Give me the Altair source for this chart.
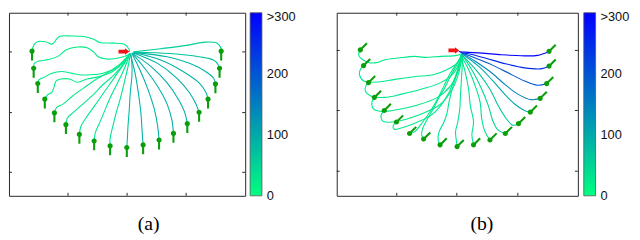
import altair as alt
import pandas as pd

# ---------------- panel (a) ----------------
a_paths_x = [
    [26, 28.3, 32.3, 40, 47.3, 51.7, 55, 66.7, 80, 90, 96.7, 110, 121.7, 126.7, 127.7],
    [27.7, 28.3, 33.3, 43.3, 53.3, 61.7, 73.3, 83.3, 90, 95, 103.3, 113.3, 123.3, 127.7],
    [32, 33.3, 38.3, 46.7, 56.7, 66.7, 75, 86.7, 100, 113.3, 123.3, 127.7],
    [39.3, 41.7, 46.7, 49.3, 50.7, 56, 65, 73.3, 83.3, 96.7, 110, 121.7, 127.7],
    [49.3, 51.7, 58.3, 68.3, 80, 93.3, 106.7, 118.3, 127.7],
    [61.3, 62.7, 70, 80, 90, 100, 111.7, 121.7, 127.7],
    [75.3, 76.7, 82.7, 90, 98.3, 106.7, 115, 123.3, 127.7],
    [90.7, 91.7, 96.7, 101.7, 106.7, 113.3, 120, 125, 128],
    [107.3, 107.3, 110, 113.3, 117.3, 120.7, 124, 126.7, 128.3],
    [124.7, 125.3, 126, 127.3, 128.3, 130, 130, 128.7],
    [141.7, 140.7, 139.3, 136.7, 133.3, 128.3],
    [158.3, 156.7, 153.3, 146.7, 138.3, 130],
    [173.3, 171.7, 166.7, 156.7, 143.3, 130],
    [187.7, 185, 178.3, 166.7, 150, 130],
    [200, 196.7, 190, 176.7, 156.7, 131.7],
    [209.3, 207.3, 200, 183.3, 160, 131.7],
    [217, 215, 206.7, 190, 166.7, 131.7],
    [221.3, 220, 215, 200, 170, 131.7],
    [223, 222.3, 218.3, 206.7, 186.7, 160, 131.7],
]
a_paths_y = [
    [44.3, 37.3, 34.3, 34.7, 37, 31.7, 29, 28.7, 29.3, 32, 35.3, 36, 37, 41.7, 45],
    [61.7, 56.7, 54.3, 52.7, 49.3, 42.7, 40, 40.7, 45, 50, 52.3, 51.7, 49.3, 46.7],
    [77.3, 73.3, 71, 66.7, 65, 66.7, 68.3, 68.3, 66.7, 61.7, 53.3, 46.7],
    [93.3, 89.3, 86, 80, 75, 72.7, 72.7, 76, 72.7, 70, 65, 55, 46.7],
    [107.3, 101.7, 98.3, 90, 81.7, 72.7, 65, 56.7, 46.7],
    [119.3, 112.7, 106, 97.3, 88.3, 78.3, 68.3, 56.7, 46.7],
    [129.3, 121.7, 111.7, 101.7, 90, 78.3, 66.7, 55, 46.7],
    [136, 128.3, 116.7, 105, 93.3, 80, 66.7, 55, 46.7],
    [141, 133.3, 121.7, 108.3, 95, 81.7, 68.3, 56.7, 46.7],
    [142.7, 133.3, 120, 103.3, 86.7, 70, 56.7, 46.7],
    [140, 126.7, 106.7, 86.7, 66.7, 46.7],
    [135, 120, 103.3, 83.3, 63.3, 46.7],
    [128.3, 115, 98.3, 80, 61.7, 46],
    [118.3, 106.7, 93.3, 76.7, 60, 46],
    [106.7, 98.3, 86.7, 71.7, 56.7, 46],
    [93.3, 86.7, 76.7, 65, 53.3, 45.7],
    [77.7, 71.7, 65, 56.7, 50, 45.7],
    [61.7, 58.3, 53.3, 50, 46.7, 45.3],
    [44.3, 40, 36, 35, 38.3, 41.7, 45],
]
a_vals = [22, 22, 22, 22, 24, 25, 28, 30, 35, 80, 90, 92, 92, 92, 92, 90, 85, 70, 55]
a_start = [121.7, 44.7]
a_xdom = [2, 248]
a_ydom = [5, 192]
a_xticks = [63.5, 125, 186.5]
a_yticks = [45, 107, 168]

# ---------------- panel (b) ----------------
b_paths_x = [
    [365, 363.3, 368.3, 375, 383.3, 390, 403.3, 420, 430, 446.7, 463.3, 468.3],
    [368.3, 365, 364, 368.3, 383.3, 400, 420, 440, 453.3, 463.3, 468.3],
    [373.3, 370.7, 370, 376.7, 390, 406.7, 426.7, 446.7, 460, 466.7],
    [379.3, 376.7, 378.3, 386.7, 403.3, 423.3, 443.3, 456.7, 465, 468.3],
    [389.3, 386, 388.3, 398.3, 413.3, 430, 446.7, 458.3, 465, 468.3],
    [401.7, 398.3, 399.3, 410, 423.3, 436.7, 446.7, 455, 461.7, 467.7],
    [415, 420, 428.3, 436.7, 443.3, 450, 456.7, 463.3, 468.3],
    [429.3, 427.3, 428.3, 433.3, 440, 445, 450, 456.7, 463.3, 468.3],
    [446, 444, 445, 450, 453.3, 455, 458.3, 463.3, 468.3],
    [463.3, 462.7, 461.7, 464, 466, 466.7, 467.7, 468.7, 469],
    [480, 478.3, 480, 476.7, 475, 471.7, 466.7],
    [496.7, 491.7, 488.3, 486.7, 481.7, 475, 466.7],
    [512.3, 505, 500, 495, 488.3, 480, 468.3],
    [525.7, 520, 513.3, 505, 496.7, 485, 468.3],
    [537.7, 531.7, 521.7, 510, 498.3, 485, 468.3],
    [547.7, 538.3, 525, 511.7, 498.3, 481.7, 468.3],
    [554.3, 545, 531.7, 515, 498.3, 481.7, 468.3],
    [556.7, 548.3, 531.7, 511.7, 491.7, 475, 466.7],
    [556.7, 545, 528.3, 508.3, 488.3, 471.7, 465],
]
b_paths_y = [
    [46.7, 51.7, 57.3, 60, 59.3, 56.7, 55, 53.3, 54.3, 53.3, 52.3, 50],
    [62.7, 66.7, 71.7, 78.3, 79.3, 76.7, 74, 71.7, 66.7, 60, 50.7],
    [80, 83.3, 88.3, 94, 95, 91.7, 86.7, 80, 70, 56.7],
    [95, 100, 106.7, 109.3, 107.3, 102.7, 95, 83.3, 66.7, 53.3],
    [108.3, 113.3, 119.3, 120, 116.7, 110.7, 101.7, 86.7, 70, 53.3],
    [120, 124, 127.3, 125, 120, 113.3, 103.3, 90, 73.3, 53.3],
    [131.7, 130, 120, 108.3, 96.7, 83.3, 70, 60, 51.7],
    [137.3, 133.3, 126.7, 116.7, 105, 95, 86.7, 73.3, 61.7, 51.7],
    [143.3, 138.3, 130, 120, 110, 100, 86.7, 70, 53.3],
    [145, 140, 130, 120, 106.7, 93.3, 76.7, 60, 51.7],
    [143.3, 133.3, 120, 103.3, 86.7, 70, 51.7],
    [138.3, 130, 116.7, 100, 83.3, 66.7, 51.7],
    [131.7, 128.3, 120, 103.3, 86.7, 70, 51.7],
    [121.7, 123.3, 116.7, 103.3, 86.7, 70, 51.7],
    [110, 108.3, 101.7, 90, 76.7, 63.3, 50.7],
    [96, 97.3, 91.7, 81.7, 70, 58.3, 50],
    [81, 82.7, 78.3, 70, 61.7, 55, 50],
    [63.3, 66, 65, 60.7, 55, 50.7, 49.3],
    [48.3, 52.3, 52.7, 51.7, 50, 49, 48.3],
]
b_vals = [25, 25, 25, 25, 25, 25, 25, 28, 30, 30, 30, 38, 50, 70, 100, 145, 200, 255, 300]
b_start = [460, 47.3]
b_xdom = [341, 586]
b_ydom = [9, 195]
b_xticks = [402, 463, 525]
b_yticks = [47.3, 108.3, 170]

# ---------------- colorbar ----------------
cbar_ticks = [0, 100, 200, 300]
cbar_labels = ["0", "100", "200", ">300"]
cmap = ["#00ff80", "#0000ff"]

GREEN = "#0b9e0b"
RED = "#f21414"
FRAME = "#262626"
H = 186
PIN = ("M -1 0 A 1 1 0 1 1 1 0 A 1 1 0 1 1 -1 0 Z "
       "M -0.4 0 L 0.4 0 L 0.4 3.6 L -0.4 3.6 Z")
ARROW = "M -1 -0.35 L 0.2 -0.35 L 0.2 -0.6 L 1 0 L 0.2 0.6 L 0.2 0.35 L -1 0.35 Z"


def panel(px, py, vals, start, xdom, ydom, xticks, yticks, W, angle, caption, dx):
    rows = []
    for k, (xs, ys) in enumerate(zip(px, py)):
        for i, (x, y) in enumerate(zip(xs, ys)):
            rows.append({"id": k, "i": i, "x": x, "y": y, "v": vals[k]})
    df = pd.DataFrame(rows)
    goals = pd.DataFrame({"x": [xs[0] for xs in px], "y": [ys[0] for ys in py]})
    sx = alt.Scale(domain=xdom, nice=False, zero=False)
    sy = alt.Scale(domain=ydom, nice=False, zero=False, reverse=True)
    X = lambda f: alt.X(f, scale=sx, axis=None)
    Y = lambda f: alt.Y(f, scale=sy, axis=None)
    lines = alt.Chart(df).mark_line(strokeWidth=1.1, interpolate="catmull-rom").encode(
        x=X("x:Q"), y=Y("y:Q"), detail="id:N", order="i:Q",
        color=alt.Color("v:Q", scale=alt.Scale(domain=[0, 300], range=cmap,
                                               interpolate="rgb"), legend=None),
    )
    marks = alt.Chart(goals).mark_point(shape=PIN, filled=True, size=28, color=GREEN,
                                        opacity=1, angle=angle).encode(x=X("x:Q"), y=Y("y:Q"))
    arrow = alt.Chart(pd.DataFrame({"x": [start[0]], "y": [start[1]]})).mark_point(
        shape=ARROW, filled=True, size=121, color=RED, opacity=1
    ).encode(x=X("x:Q"), y=Y("y:Q"))
    xt = pd.DataFrame({"t": xticks})
    yt = pd.DataFrame({"t": yticks})
    rk = dict(color=FRAME, strokeWidth=1)
    tb = alt.Chart(xt).mark_rule(**rk).encode(x=X("t:Q"), y=alt.value(H), y2=alt.value(H - 3))
    tt = alt.Chart(xt).mark_rule(**rk).encode(x=X("t:Q"), y=alt.value(0), y2=alt.value(3))
    tl = alt.Chart(yt).mark_rule(**rk).encode(y=Y("t:Q"), x=alt.value(0), x2=alt.value(3))
    tr = alt.Chart(yt).mark_rule(**rk).encode(y=Y("t:Q"), x=alt.value(W), x2=alt.value(W - 3))
    return alt.layer(lines, marks, arrow, tb, tt, tl, tr).properties(
        width=W, height=H,
        title=alt.Title(caption, orient="bottom", anchor="middle", dx=dx, offset=18,
                        font="Liberation Serif", fontSize=20, fontWeight="normal",
                        color="black"),
    )


def cbar(W, x0):
    sy = alt.Scale(domain=[0, 300], nice=False, zero=False)
    grad = alt.LinearGradient(
        gradient="linear", x1=0, x2=0, y1=1, y2=0,
        stops=[alt.GradientStop(color=cmap[0], offset=0),
               alt.GradientStop(color=cmap[1], offset=1)],
    )
    bar = alt.Chart(pd.DataFrame({"lo": [cbar_ticks[0]], "hi": [cbar_ticks[-1]]})).mark_rect(
        fill=grad, stroke="#555555", strokeWidth=0.8
    ).encode(y=alt.Y("lo:Q", scale=sy, axis=None), y2="hi:Q",
             x=alt.value(x0), x2=alt.value(x0 + 12))
    lab = pd.DataFrame({"v": cbar_ticks, "t": cbar_labels})
    tk = dict(align="left", baseline="middle", font="Liberation Sans", fontSize=13,
              color="#111111")
    low = alt.Chart(lab).transform_filter("datum.v < 300").mark_text(**tk).encode(
        y=alt.Y("v:Q", scale=sy, axis=None), x=alt.value(x0 + 17), text="t:N")
    top = alt.Chart(lab).transform_filter("datum.v >= 300").mark_text(dy=4, **tk).encode(
        y=alt.Y("v:Q", scale=sy, axis=None), x=alt.value(x0 + 17), text="t:N")
    return alt.layer(bar, low, top).properties(
        width=W, height=H, view=alt.ViewBackground(stroke="transparent"))


pa = panel(a_paths_x, a_paths_y, a_vals, a_start, a_xdom, a_ydom, a_xticks, a_yticks,
           240, 0, "(a)", 22)
pb = panel(b_paths_x, b_paths_y, b_vals, b_start, b_xdom, b_ydom, b_xticks, b_yticks,
           245, 225, "(b)", 25)
chart = alt.hconcat(pa, cbar(93, 5), pb, cbar(54, 6), spacing=0, bounds="flush").properties(
    padding={"left": 0, "top": 0, "right": 0, "bottom": 0}
).configure_view(stroke=FRAME, strokeWidth=1)

chart.save("out.html", embed_options={"renderer": "svg", "actions": False})
